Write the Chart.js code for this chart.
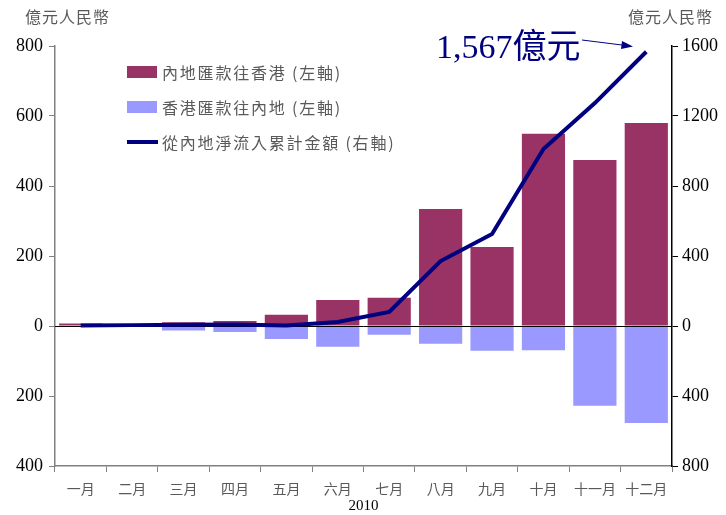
<!DOCTYPE html>
<html>
<head>
<meta charset="utf-8">
<script src="https://cdn.jsdelivr.net/npm/chart.js@4.4.0/dist/chart.umd.min.js"></script>
<style>
  html, body { margin: 0; padding: 0; background: #fff; }
  #wrap { width: 726px; height: 515px; }
</style>
</head>
<body>
<div id="wrap"><canvas id="flowChart"></canvas></div>
<script>
// 2010 monthly RMB remittance flows, 億元人民幣
const months = ['一月', '二月', '三月', '四月', '五月', '六月', '七月', '八月', '九月', '十月', '十一月', '十二月'];
const toHongKong = [7, 3, 11, 14, 32, 74, 81, 334, 226, 549, 474, 580];
const toMainland = [-3, -2, -13, -17, -37, -59, -25, -51, -71, -69, -228, -277];
const netCumulative = [3, 5, 7, 8, 3, 23, 80, 371, 526, 1011, 1274, 1567];
const leftTicks = [-400, -200, 0, 200, 400, 600, 800];
const rightTicks = [-800, -400, 0, 400, 800, 1200, 1600];

const GREY = '#595959';
const AXIS = '#808080';
const CJK = '"Noto Sans CJK TC", "Noto Sans CJK SC", sans-serif';

// zero line goes over the bars but under the line series
const zeroLine = {
    id: 'zeroLine',
    beforeDatasetDraw(chart, args) {
        if (args.index !== 2) return;
        const { ctx, chartArea } = chart;
        const y = Math.round(chart.scales.y.getPixelForValue(0)) + 0.5;
        ctx.save();
        ctx.strokeStyle = '#000';
        ctx.lineWidth = 1;
        ctx.beginPath();
        ctx.moveTo(chartArea.left, y);
        ctx.lineTo(chartArea.right, y);
        ctx.stroke();
        ctx.restore();
    }
};

const extras = {
    id: 'extras',
    afterDraw(chart) {
        const ctx = chart.ctx;
        ctx.save();
        ctx.letterSpacing = '1px';

        // axis unit titles
        ctx.fillStyle = GREY;
        ctx.font = '16px ' + CJK;
        ctx.textBaseline = 'middle';
        ctx.textAlign = 'left';
        ctx.fillText('億元人民幣', 25, 17);
        ctx.fillText('億元人民幣', 628, 17);

        // legend
        ctx.letterSpacing = '1.8px';
        const rows = [72, 107, 142];
        chart.data.datasets.forEach((ds, i) => {
            const y = rows[i];
            if (ds.type === 'line') {
                ctx.fillStyle = ds.borderColor;
                ctx.fillRect(127, y - 2, 31, 4);
            } else {
                ctx.fillStyle = ds.backgroundColor;
                ctx.fillRect(127, y - 6, 30, 12);
            }
            ctx.fillStyle = GREY;
            ctx.fillText(ds.label, 162, y + 1);
        });
        ctx.letterSpacing = '0px';

        // annotation for the last cumulative value
        ctx.fillStyle = '#000080';
        ctx.font = '34px "Liberation Serif", "Noto Sans CJK TC", serif';
        ctx.textBaseline = 'alphabetic';
        ctx.fillText('1,567億元', 436, 58);

        ctx.strokeStyle = '#000080';
        ctx.lineWidth = 1;
        ctx.beginPath();
        ctx.moveTo(582, 40);
        ctx.lineTo(630, 46);
        ctx.stroke();
        ctx.beginPath();
        ctx.moveTo(633, 46.5);
        ctx.lineTo(622, 41);
        ctx.lineTo(621, 49);
        ctx.closePath();
        ctx.fill();
        ctx.restore();
    }
};

new Chart(document.getElementById('flowChart'), {
    type: 'bar',
    data: {
        labels: months,
        datasets: [
            {
                label: '內地匯款往香港 (左軸)',
                data: toHongKong,
                backgroundColor: '#993366',
                yAxisID: 'y',
                order: 1
            },
            {
                label: '香港匯款往內地 (左軸)',
                data: toMainland,
                backgroundColor: '#9999FF',
                yAxisID: 'y',
                order: 1
            },
            {
                type: 'line',
                label: '從內地淨流入累計金額 (右軸)',
                data: netCumulative,
                borderColor: '#000080',
                backgroundColor: '#000080',
                borderWidth: 4,
                pointRadius: 0,
                tension: 0,
                yAxisID: 'y2',
                order: 0
            }
        ]
    },
    options: {
        responsive: true,
        maintainAspectRatio: false,
        animation: false,
        categoryPercentage: 1,
        barPercentage: 0.84,
        layout: { padding: { top: 46, left: 0, right: 0, bottom: 0 } },
        plugins: {
            legend: { display: false },
            tooltip: { enabled: false }
        },
        scales: {
            x: {
                stacked: true,
                afterFit: s => { s.height = 49; },
                border: { color: AXIS, width: 1.5 },
                grid: { drawOnChartArea: false, color: AXIS, tickLength: 6, offset: true },
                ticks: { color: GREY, font: { family: CJK, size: 14 }, padding: 8, maxRotation: 0, autoSkip: false },
                title: {
                    display: true,
                    text: '2010',
                    color: '#000',
                    font: { family: '"Liberation Serif", serif', size: 15 },
                    padding: { top: 1, bottom: 0 }
                }
            },
            y: {
                position: 'left',
                stacked: true,
                min: -400,
                max: 800,
                afterFit: s => { s.width = 55; },
                afterBuildTicks: s => { s.ticks = leftTicks.map(v => ({ value: v })); },
                border: { color: AXIS, width: 1.5 },
                grid: { drawOnChartArea: false, color: AXIS, tickLength: 6 },
                ticks: {
                    color: '#000',
                    font: { family: '"Liberation Serif", serif', size: 18 },
                    padding: 6,
                    callback: v => String(Math.abs(v))
                }
            },
            y2: {
                position: 'right',
                stacked: false,
                min: -800,
                max: 1600,
                afterFit: s => { s.width = 54; },
                afterBuildTicks: s => { s.ticks = rightTicks.map(v => ({ value: v })); },
                border: { color: '#000', width: 1.5 },
                grid: { drawOnChartArea: false, color: '#000', tickLength: 6 },
                ticks: {
                    color: '#000',
                    font: { family: '"Liberation Serif", serif', size: 18 },
                    padding: 4,
                    callback: v => String(Math.abs(v))
                }
            }
        }
    },
    plugins: [zeroLine, extras]
});
</script>
</body>
</html>
